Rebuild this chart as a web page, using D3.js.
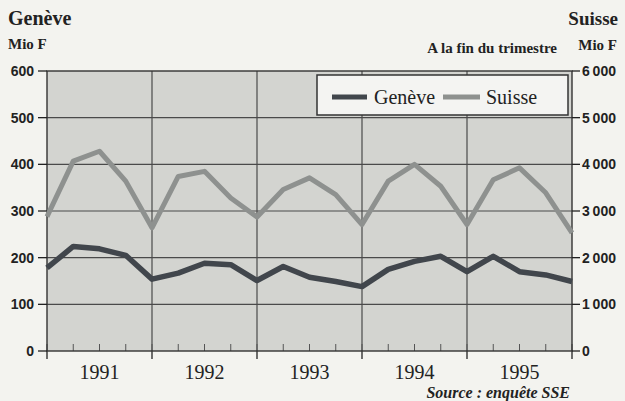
<!DOCTYPE html>
<html><head><meta charset="utf-8">
<script src="https://cdn.jsdelivr.net/npm/d3@7"></script>
<style>body{margin:0;background:#f3f3ef;overflow:hidden}</style>
</head><body>
<svg id="c" width="625" height="401"></svg>
<script>
const quarters = ["1990 T4","1991 T1","1991 T2","1991 T3","1991 T4","1992 T1","1992 T2","1992 T3","1992 T4","1993 T1","1993 T2","1993 T3","1993 T4","1994 T1","1994 T2","1994 T3","1994 T4","1995 T1","1995 T2","1995 T3","1995 T4"];
const geneve = [178,224,219,205,154,167,188,185,151,181,158,149,138,175,192,203,170,203,170,163,149];
const suisse = [2880,4070,4280,3640,2640,3740,3850,3280,2870,3460,3710,3350,2710,3640,4000,3530,2710,3670,3925,3390,2530];
const years = ["1991","1992","1993","1994","1995"];
const leftTicks = [0,100,200,300,400,500,600];
const rightTicks = [0,1000,2000,3000,4000,5000,6000];

const svg = d3.select("#c");
const L = 47, R = 572, T = 71, B = 351;
const x = d3.scalePoint().domain(quarters).range([L, R]);
const yL = d3.scaleLinear().domain([0, 600]).range([B, T]);
const yR = d3.scaleLinear().domain([0, 6000]).range([B, T]);
const serif = "'Liberation Serif','Times New Roman',serif";
const sans = "'Liberation Sans',Arial,sans-serif";
const ink = "#222";

svg.append("rect").attr("width", 625).attr("height", 401).attr("fill", "#f3f3ef");
svg.append("rect").attr("x", L).attr("y", T).attr("width", R - L).attr("height", B - T).attr("fill", "#d3d4d0");

// horizontal grid
svg.append("g").selectAll("line").data(leftTicks.filter(v => v > 0 && v < 600)).join("line")
  .attr("x1", L).attr("x2", R).attr("y1", d => yL(d)).attr("y2", d => yL(d))
  .attr("stroke", "#4a4a4a").attr("stroke-width", 1.2);
// vertical grid at year boundaries
const yearEnds = quarters.filter(q => q.endsWith("T4"));
svg.append("g").selectAll("line").data(yearEnds.slice(1, -1)).join("line")
  .attr("x1", d => x(d)).attr("x2", d => x(d)).attr("y1", T).attr("y2", B)
  .attr("stroke", "#4a4a4a").attr("stroke-width", 1.2);

// minor quarter ticks
svg.append("g").selectAll("line").data(quarters).join("line")
  .attr("x1", d => x(d)).attr("x2", d => x(d)).attr("y1", B).attr("y2", B - 7)
  .attr("stroke", "#555").attr("stroke-width", 1);
// major year ticks
svg.append("g").selectAll("line").data(yearEnds).join("line")
  .attr("x1", d => x(d)).attr("x2", d => x(d)).attr("y1", B).attr("y2", B + 8)
  .attr("stroke", ink).attr("stroke-width", 1.3);

// border
svg.append("rect").attr("x", L).attr("y", T).attr("width", R - L).attr("height", B - T)
  .attr("fill", "none").attr("stroke", "#333").attr("stroke-width", 1.4);

// left axis
const gl = svg.append("g");
gl.selectAll("line").data(leftTicks).join("line")
  .attr("x1", 38).attr("x2", L).attr("y1", d => yL(d)).attr("y2", d => yL(d))
  .attr("stroke", ink).attr("stroke-width", 1.3);
gl.selectAll("text").data(leftTicks).join("text")
  .attr("x", 34).attr("y", d => yL(d)).attr("dy", "0.36em").attr("text-anchor", "end")
  .attr("font-family", sans).attr("font-weight", "bold").attr("font-size", 14).attr("fill", ink)
  .text(d => d);

// right axis
const fmt = v => d3.format(",")(v).replace(",", "\u2009");
const gr = svg.append("g");
gr.selectAll("line").data(rightTicks).join("line")
  .attr("x1", R).attr("x2", 580).attr("y1", d => yR(d)).attr("y2", d => yR(d))
  .attr("stroke", ink).attr("stroke-width", 1.3);
gr.selectAll("text").data(rightTicks).join("text")
  .attr("x", 582).attr("y", d => yR(d)).attr("dy", "0.36em").attr("text-anchor", "start")
  .attr("font-family", sans).attr("font-weight", "bold").attr("font-size", 14).attr("fill", ink)
  .text(d => fmt(d));

// year labels
svg.append("g").selectAll("text").data(years).join("text")
  .attr("x", (d, i) => (x(yearEnds[i]) + x(yearEnds[i + 1])) / 2).attr("y", 379)
  .attr("text-anchor", "middle").attr("font-family", serif).attr("font-size", 20).attr("fill", ink)
  .text(d => d);

// lines
const lineL = d3.line().x((d, i) => x(quarters[i])).y(d => yL(d));
const lineR = d3.line().x((d, i) => x(quarters[i])).y(d => yR(d));
svg.append("path").attr("d", lineR(suisse)).attr("fill", "none")
  .attr("stroke", "#8e918f").attr("stroke-width", 5).attr("stroke-linejoin", "round");
svg.append("path").attr("d", lineL(geneve)).attr("fill", "none")
  .attr("stroke", "#41464c").attr("stroke-width", 5.5).attr("stroke-linejoin", "round");

// legend
const lg = svg.append("g");
lg.append("rect").attr("x", 317).attr("y", 75).attr("width", 251).attr("height", 40)
  .attr("fill", "#f4f4f2").attr("stroke", "#333").attr("stroke-width", 1.5);
lg.append("line").attr("x1", 332).attr("x2", 367).attr("y1", 97).attr("y2", 97)
  .attr("stroke", "#41464c").attr("stroke-width", 5);
lg.append("text").attr("x", 374).attr("y", 104).attr("font-family", serif).attr("font-size", 20)
  .attr("fill", ink).text("Genève");
lg.append("line").attr("x1", 443).attr("x2", 480).attr("y1", 97).attr("y2", 97)
  .attr("stroke", "#8e918f").attr("stroke-width", 5);
lg.append("text").attr("x", 486).attr("y", 104).attr("font-family", serif).attr("font-size", 20)
  .attr("fill", ink).text("Suisse");

// titles
const t = (xx, yy, s, size, anchor, style) => svg.append("text").attr("x", xx).attr("y", yy)
  .attr("text-anchor", anchor).attr("font-family", serif).attr("font-weight", "bold")
  .attr("font-style", style || "normal").attr("font-size", size).attr("fill", ink).text(s);
t(8, 25, "Genève", 20, "start");
t(8, 49, "Mio F", 15, "start");
t(618, 25, "Suisse", 19, "end");
t(617, 50, "Mio F", 15, "end");
t(557, 53, "A la fin du trimestre", 15, "end");
t(570, 398, "Source : enquête SSE", 16, "end", "italic");
</script>
</body></html>
